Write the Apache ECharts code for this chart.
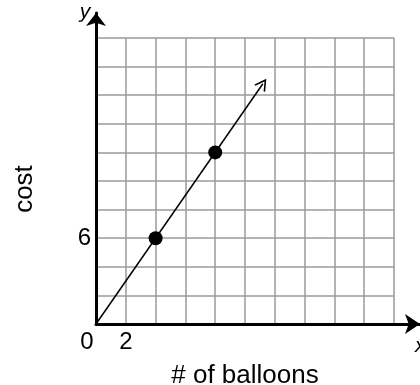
<!DOCTYPE html>
<html>
<head>
	<meta charset="utf-8">
	<title>cost of balloons</title>
	<script type="text/javascript" src="https://cdn.jsdelivr.net/npm/echarts@6/dist/echarts.min.js"></script>
	<style>
		html, body { margin: 0; padding: 0; background: #fff; }
	</style>
</head>
<body>
	<div id="chart" style="width: 420px;height:385px;"></div>
	<script type="text/javascript">
		// values
		const xTickLabels = [0, 2];      // only these are labelled on x
		const yTickLabels = [6];         // only this one on y
		const points = [[4, 6], [8, 12]];
		const rayStart = [0, 0];
		const rayEnd = [11.2, 16.8];

		const font = 'Liberation Sans, Arial, sans-serif';
		const gridColor = '#9a9a9a';

		// open arrow head, drawn pointing up
		const chevron = 'path://M0,12 L6,0 L12,12 L10.66,12.67 L6,3.35 L1.34,12.67 Z';

		const chart = echarts.init(document.getElementById('chart'));
		const options = {
			animation: false,
			grid: [
				// the squares
				{ left: 96, top: 38, right: 26, bottom: 61, outerBoundsMode: 'none' },
				// the axes with arrows
				{ left: 96, top: 13, right: 0, bottom: 61, outerBoundsMode: 'none' }
			],
			xAxis: [
				{
					gridIndex: 0, type: 'value', min: 0, max: 20, interval: 2,
					axisLine: { show: false },
					axisTick: { show: false },
					splitLine: { lineStyle: { color: gridColor, width: 1.5 } },
					axisLabel: {
						color: '#000', fontSize: 24, fontFamily: font, margin: 6,
						formatter: function (v) {
							if (xTickLabels.indexOf(v) < 0) return '';
							return v === 0 ? '{o|0}' : String(v);
						},
						rich: { o: { fontSize: 24, fontFamily: font, color: '#000', padding: [0, 18, 0, 0] } }
					},
					name: '# of balloons', nameLocation: 'middle', nameGap: 39,
					nameTextStyle: { color: '#000', fontSize: 26, fontFamily: font }
				},
				{
					gridIndex: 1, type: 'value', min: 0, max: 1,
					axisLine: { lineStyle: { color: '#000', width: 3 }, symbol: ['none', 'arrow'], symbolSize: [15, 15] },
					axisTick: { show: false }, axisLabel: { show: false }, splitLine: { show: false },
					name: 'x', nameLocation: 'end', nameGap: -5,
					nameTextStyle: { color: '#000', fontSize: 21, fontStyle: 'italic', fontFamily: font, align: 'left', verticalAlign: 'top', padding: [12, 0, 0, 0] }
				}
			],
			yAxis: [
				{
					gridIndex: 0, type: 'value', min: 0, max: 20, interval: 2,
					axisLine: { show: false },
					axisTick: { show: false },
					splitLine: { lineStyle: { color: gridColor, width: 1.5 } },
					axisLabel: {
						color: '#000', fontSize: 24, fontFamily: font, margin: 5,
						formatter: function (v) { return yTickLabels.indexOf(v) < 0 ? '' : String(v); }
					},
					name: 'cost', nameLocation: 'middle', nameGap: 58, nameRotate: 90,
					nameTextStyle: { color: '#000', fontSize: 26, fontFamily: font, padding: [0, 16, 0, 0] }
				},
				{
					gridIndex: 1, type: 'value', min: 0, max: 1,
					axisLine: { lineStyle: { color: '#000', width: 3 }, symbol: ['none', 'arrow'], symbolSize: [15, 13] },
					axisTick: { show: false }, axisLabel: { show: false }, splitLine: { show: false },
					name: 'y', nameLocation: 'end', nameGap: -10,
					nameTextStyle: { color: '#000', fontSize: 21, fontStyle: 'italic', fontFamily: font, padding: [0, 22, 0, 0] }
				}
			],
			series: [
				{
					type: 'scatter', xAxisIndex: 0, yAxisIndex: 0, z: 5,
					symbolSize: 14,
					itemStyle: { color: '#000', opacity: 1 },
					data: points,
					markLine: {
						silent: true,
						symbol: ['none', chevron],
						symbolSize: [13, 12],
						label: { show: false },
						lineStyle: { color: '#000', width: 1.5, type: 'solid', opacity: 1 },
						data: [[{ coord: rayStart }, { coord: rayEnd }]]
					}
				}
			]
		};
		chart.setOption(options);
	</script>
</body>
</html>
